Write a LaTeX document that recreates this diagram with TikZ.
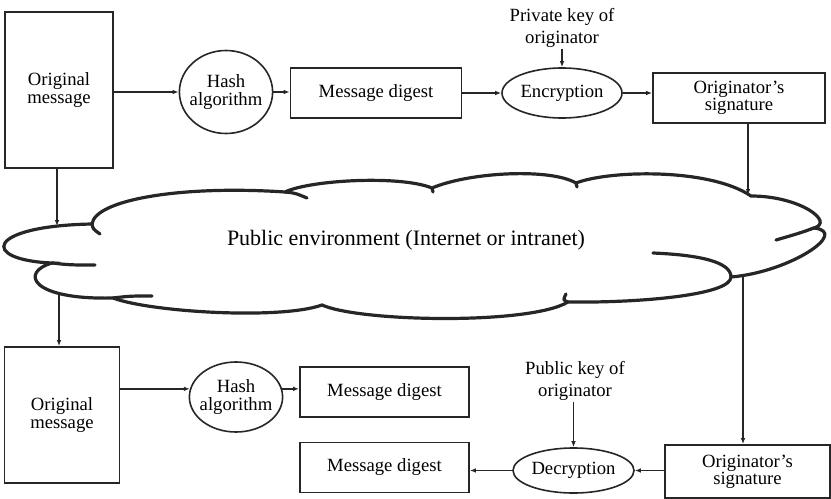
\documentclass[tikz,border=0pt]{standalone}
\usepackage{fontspec}
\setmainfont{Liberation Serif}
\usetikzlibrary{arrows.meta,shapes.geometric}

\begin{document}
\begin{tikzpicture}[x=0.75pt,y=0.75pt,yscale=-1,xscale=1,
  box/.style={draw=black!85,line width=1.4pt,align=center,inner sep=2pt,font=\fontsize{14}{13}\selectfont},
  oval/.style={ellipse,draw=black!85,line width=1.2pt,align=center,inner sep=0pt,font=\fontsize{14}{13}\selectfont},
  keytext/.style={align=center,inner sep=1pt,font=\fontsize{14}{16}\selectfont},
  arr/.style={draw=black!85,line width=1pt,-{Latex[length=4.5pt,width=3.5pt]}},
  cloudline/.style={draw=black!85,line width=2.4pt,line cap=round}]
\useasboundingbox (0,0) rectangle (831,499);

%Shape: Rectangle (sender)
\node[box,minimum width=81pt,minimum height=117pt] (om1) at (59,90) {Original\\message};
%Shape: Ellipse
\node[oval,inner xsep=-2.5pt,minimum width=69.75pt,minimum height=62.25pt] (hash1) at (226,92) {Hash\\algorithm};
%Shape: Rectangle
\node[box,minimum width=128.25pt,minimum height=37.5pt] (md1) at (376,93) {Message digest};
%Shape: Ellipse
\node[oval,minimum width=90pt,minimum height=37.5pt] (enc) at (562,93) {Encryption};
% Text Node
\node[keytext] (pk1) at (562,28) {Private key of\\originator};
%Shape: Rectangle
\node[box,minimum width=129pt,minimum height=37.5pt] (sig1) at (739,98) {Originator's\\signature};

%Shape: Rectangle (receiver)
\node[box,minimum width=86.25pt,minimum height=102pt] (om2) at (62,415) {Original\\message};
%Shape: Ellipse
\node[oval,inner xsep=-2.5pt,minimum width=69pt,minimum height=52.5pt] (hash2) at (236,397) {Hash\\algorithm};
%Shape: Rectangle
\node[box,minimum width=126.75pt,minimum height=37.5pt] (md2a) at (384.5,392) {Message digest};
\node[box,minimum width=126.75pt,minimum height=37.5pt] (md2b) at (384.5,467.5) {Message digest};
%Shape: Ellipse
\node[oval,minimum width=90.75pt,minimum height=33.75pt] (dec) at (573.5,470.5) {Decryption};
% Text Node
\node[keytext] (pk2) at (575,381) {Public key of\\originator};
%Shape: Rectangle
\node[box,minimum width=123.75pt,minimum height=39.75pt] (sig2) at (747.5,471.5) {Originator's\\signature};

%Shape: Cloud
\draw[cloudline] (92,224) .. controls (95,200) and (180,185) .. (285,192)
  .. controls (310,180) and (400,175) .. (432,188)
  .. controls (470,172) and (550,168) .. (576,183)
  .. controls (610,170) and (710,168) .. (751,196)
  .. controls (800,196) and (835,222) .. (814,228)
  .. controls (850,232) and (790,272) .. (731,277)
  .. controls (731,295) and (640,303) .. (568,302)
  .. controls (530,325) and (360,322) .. (322,305)
  .. controls (280,320) and (150,312) .. (113,298)
  .. controls (30,300) and (20,272) .. (52,263)
  .. controls (-20,260) and (-15,226) .. (92,224);
% cloud tails
\draw[cloudline] (92,224) .. controls (93,229) .. (100,234);
\draw[cloudline] (285,192) .. controls (295,193) .. (307,198);
\draw[cloudline] (432,188) -- (433,192);
\draw[cloudline] (576,183) -- (577,187);
\draw[cloudline] (814,228) .. controls (800,233) .. (776,240);
\draw[cloudline] (653,253) .. controls (700,255) and (731,262) .. (731,277);
\draw[cloudline] (568,302) .. controls (563,300) .. (566,294);
\draw[cloudline] (113,298) .. controls (130,296) .. (152,296);
\draw[cloudline] (52,263) .. controls (70,265) .. (95,265);
% Text Node
\node[font=\fontsize{16.5}{18}\selectfont] (pubenv) at (406,240) {Public environment (Internet or intranet)};

\coordinate (clInL) at (57,226);
\coordinate (clInR) at (748,195);
\coordinate (clOutL) at (59,293);
\coordinate (clOutR) at (743,276);

%Straight Lines
\draw[arr] (om1.east |- hash1.west) -- (hash1.west);
\draw[arr] (hash1.east) -- (hash1.east -| md1.west);
\draw[arr] (md1.east) -- (md1.east -| enc.west);
\draw[arr] (enc.east) -- (enc.east -| sig1.west);
\draw[arr] (pk1.south) -- (enc.north);
\draw[arr] (om1.south -| clInL) -- (clInL);
\draw[arr] (sig1.south -| clInR) -- (clInR);
\draw[arr] (clOutL) -- (clOutL |- om2.north);
\draw[arr] (clOutR) -- (clOutR |- sig2.north);
\draw[arr] (om2.east |- hash2.170) -- (hash2.170);
\draw[arr] (hash2.10) -- (hash2.10 -| md2a.west);
\draw[arr] (pk2.south -| dec.north) -- (dec.north);
\draw[arr] (sig2.west |- dec.east) -- (dec.east);
\draw[arr] (dec.west) -- (dec.west -| md2b.east);

\end{tikzpicture}
\end{document}
